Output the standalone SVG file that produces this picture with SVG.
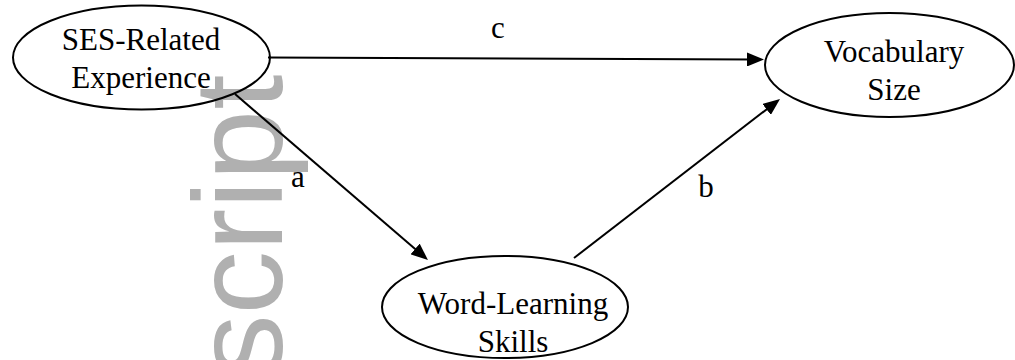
<svg xmlns="http://www.w3.org/2000/svg" width="1015" height="360" viewBox="0 0 1015 360">
  <defs>
    <style>
      .node { fill: none; stroke: #000; stroke-width: 2; }
      .lbl { font-family: "Liberation Serif", "Times New Roman", serif; font-size: 31px; fill: #000; text-anchor: middle; }
      .edge { stroke: #000; stroke-width: 2; fill: none; marker-end: url(#arrow); }
      .wm { font-family: "Liberation Sans", Arial, sans-serif; font-size: 127px; fill: #b0b0b0; }
    </style>
    <marker id="arrow" viewBox="0 0 17 14" refX="7" refY="7" markerWidth="17" markerHeight="14" markerUnits="userSpaceOnUse" orient="auto">
      <path d="M0,0 L17,7 L0,14 Z" fill="#000"/>
    </marker>
  </defs>
  <rect width="1015" height="360" fill="#fff"/>
  <text class="wm" transform="translate(282,378) rotate(-90)">script</text>
  <g id="connectors">
    <line id="edge-c" class="edge" x1="268" y1="57.5" x2="754" y2="59.5"/>
    <line id="edge-a" class="edge" x1="235" y1="94" x2="420.4" y2="253.5"/>
    <line id="edge-b" class="edge" x1="574" y1="258" x2="772.1" y2="105.1"/>
    <text class="lbl" x="498" y="38">c</text>
    <text class="lbl" x="298" y="187">a</text>
    <text class="lbl" x="706" y="197">b</text>
  </g>
  <g id="node-ses">
    <ellipse class="node" cx="141.5" cy="57.5" rx="128.5" ry="52"/>
    <text class="lbl" x="141" y="50">SES-Related</text>
    <text class="lbl" x="141" y="88">Experience</text>
  </g>
  <g id="node-vocab">
    <ellipse class="node" cx="889.5" cy="65" rx="124.5" ry="52"/>
    <text class="lbl" x="894" y="62">Vocabulary</text>
    <text class="lbl" x="894" y="100">Size</text>
  </g>
  <g id="node-wls">
    <ellipse class="node" cx="505" cy="307" rx="123" ry="51"/>
    <text class="lbl" x="513" y="314">Word-Learning</text>
    <text class="lbl" x="513" y="352">Skills</text>
  </g>
</svg>
